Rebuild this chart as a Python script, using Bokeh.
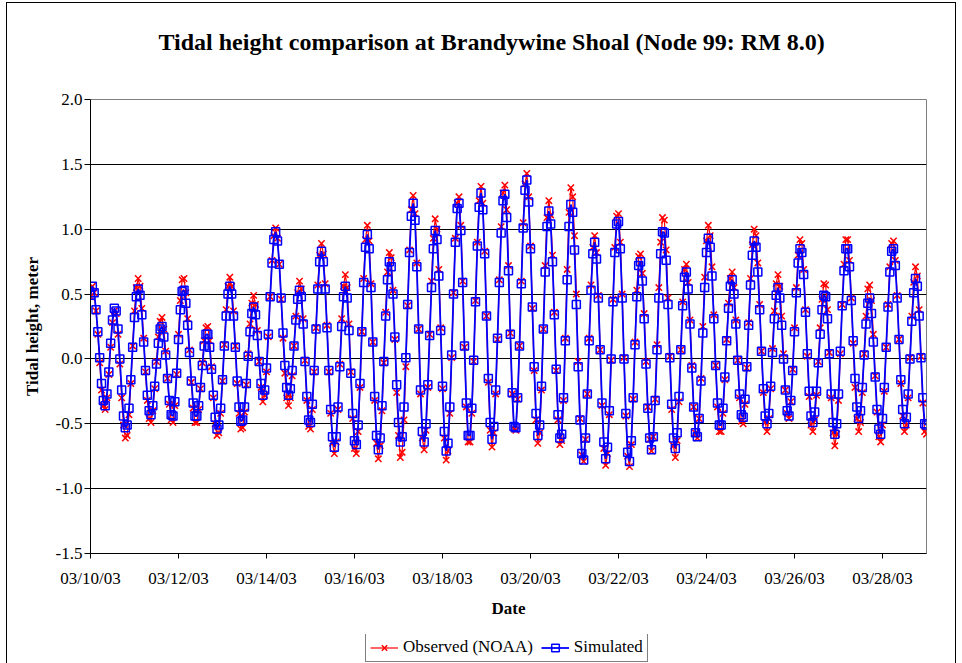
import pandas as pd
from bokeh.plotting import figure
from bokeh.layouts import column
from bokeh.models import (ColumnDataSource, Range1d, FixedTicker, NumeralTickFormatter,
                          DatetimeTickFormatter, Legend, LegendItem, Title)
from bokeh.embed import file_html
from bokeh.resources import INLINE

TITLE = "Tidal height comparison at Brandywine Shoal (Node 99: RM 8.0)"
X_LABEL = "Date"
Y_LABEL = "Tidal height, meter"
SERIES_NAMES = ["Observed (NOAA)", "Simulated"]
START = "2003-03-10 00:00"
END = "2003-03-29 00:00"
x_tick_labels = ["03/10/03", "03/12/03", "03/14/03", "03/16/03", "03/18/03",
                 "03/20/03", "03/22/03", "03/24/03", "03/26/03", "03/28/03"]
y_ticks = [-1.5, -1.0, -0.5, 0.0, 0.5, 1.0, 1.5, 2.0]

# hourly values (m), starting 03/10/03 00:00
observed = [
    0.48, 0.56, 0.51, 0.37, 0.19, -0.03, -0.24, -0.36, -0.39, -0.30, -0.12, 0.09,
    0.28, 0.37, 0.35, 0.19, -0.04, -0.30, -0.51, -0.61, -0.59, -0.43, -0.19, 0.10,
    0.37, 0.55, 0.62, 0.56, 0.39, 0.16, -0.10, -0.32, -0.46, -0.49, -0.40, -0.23,
    -0.02, 0.17, 0.29, 0.32, 0.23, 0.06, -0.15, -0.35, -0.47, -0.49, -0.36, -0.12,
    0.19, 0.45, 0.61, 0.62, 0.51, 0.31, 0.07, -0.18, -0.38, -0.49, -0.49, -0.39,
    -0.23, -0.03, 0.14, 0.24, 0.25, 0.14, -0.06, -0.30, -0.50, -0.59, -0.57, -0.42,
    -0.17, 0.11, 0.38, 0.56, 0.63, 0.56, 0.37, 0.10, -0.19, -0.42, -0.54, -0.53,
    -0.41, -0.20, 0.04, 0.27, 0.43, 0.49, 0.42, 0.22, -0.02, -0.22, -0.33, -0.28,
    -0.10, 0.17, 0.48, 0.76, 0.95, 1.01, 0.93, 0.73, 0.46, 0.16, -0.11, -0.30,
    -0.36, -0.30, -0.13, 0.10, 0.33, 0.51, 0.60, 0.54, 0.31, -0.01, -0.32, -0.52,
    -0.54, -0.39, -0.10, 0.24, 0.57, 0.80, 0.89, 0.81, 0.58, 0.26, -0.10, -0.42,
    -0.65, -0.73, -0.64, -0.39, -0.04, 0.31, 0.56, 0.65, 0.55, 0.27, -0.10, -0.46,
    -0.69, -0.73, -0.56, -0.22, 0.21, 0.62, 0.92, 1.03, 0.91, 0.58, 0.13, -0.32,
    -0.65, -0.77, -0.67, -0.40, -0.03, 0.36, 0.67, 0.82, 0.78, 0.53, 0.15, -0.26,
    -0.59, -0.76, -0.72, -0.47, -0.06, 0.41, 0.84, 1.15, 1.26, 1.12, 0.74, 0.23,
    -0.27, -0.61, -0.70, -0.55, -0.22, 0.19, 0.60, 0.93, 1.08, 1.00, 0.69, 0.24,
    -0.23, -0.61, -0.78, -0.71, -0.42, 0.01, 0.51, 0.93, 1.20, 1.25, 1.03, 0.60,
    0.09, -0.37, -0.64, -0.64, -0.42, -0.02, 0.45, 0.90, 1.22, 1.33, 1.20, 0.83,
    0.33, -0.18, -0.55, -0.68, -0.57, -0.27, 0.15, 0.61, 1.02, 1.28, 1.34, 1.15,
    0.72, 0.20, -0.27, -0.54, -0.55, -0.31, 0.10, 0.60, 1.05, 1.35, 1.43, 1.25,
    0.87, 0.39, -0.09, -0.47, -0.65, -0.57, -0.24, 0.23, 0.72, 1.09, 1.22, 1.11,
    0.80, 0.36, -0.09, -0.47, -0.66, -0.63, -0.32, 0.16, 0.69, 1.13, 1.32, 1.25,
    0.95, 0.50, -0.02, -0.46, -0.74, -0.79, -0.62, -0.27, 0.16, 0.57, 0.86, 0.95,
    0.82, 0.49, 0.07, -0.36, -0.69, -0.82, -0.73, -0.43, -0.01, 0.46, 0.86, 1.10,
    1.12, 0.90, 0.50, 0.01, -0.44, -0.75, -0.83, -0.66, -0.31, 0.13, 0.53, 0.79,
    0.81, 0.66, 0.35, -0.02, -0.37, -0.62, -0.71, -0.60, -0.31, 0.11, 0.55, 0.90,
    1.09, 1.07, 0.84, 0.47, 0.02, -0.39, -0.67, -0.76, -0.63, -0.33, 0.07, 0.44,
    0.69, 0.73, 0.59, 0.30, -0.05, -0.37, -0.57, -0.61, -0.46, -0.15, 0.25, 0.63,
    0.91, 1.03, 0.95, 0.71, 0.34, -0.05, -0.37, -0.56, -0.56, -0.42, -0.16, 0.15,
    0.43, 0.62, 0.67, 0.55, 0.30, -0.01, -0.30, -0.48, -0.50, -0.35, -0.07, 0.28,
    0.62, 0.88, 1.00, 0.95, 0.74, 0.42, 0.06, -0.26, -0.49, -0.56, -0.46, -0.23,
    0.08, 0.37, 0.58, 0.65, 0.56, 0.33, 0.04, -0.24, -0.42, -0.46, -0.33, -0.08,
    0.24, 0.55, 0.80, 0.92, 0.89, 0.69, 0.38, 0.02, -0.29, -0.51, -0.56, -0.47,
    -0.28, -0.02, 0.24, 0.46, 0.58, 0.57, 0.38, 0.05, -0.30, -0.57, -0.67, -0.58,
    -0.32, 0.04, 0.42, 0.73, 0.92, 0.92, 0.76, 0.47, 0.12, -0.22, -0.46, -0.56,
    -0.49, -0.26, 0.04, 0.33, 0.54, 0.57, 0.45, 0.19, -0.13, -0.41, -0.60, -0.64,
    -0.51, -0.25, 0.09, 0.42, 0.71, 0.89, 0.91, 0.76, 0.49, 0.15, -0.19, -0.44,
    -0.56, -0.51, -0.30, 0.01, 0.33, 0.59, 0.71, 0.64, 0.38, 0.02, -0.34, -0.56,
    -0.58,
]

simulated = [
    0.49, 0.56, 0.51, 0.38, 0.21, 0.01, -0.19, -0.32, -0.36, -0.27, -0.10, 0.12,
    0.30, 0.39, 0.37, 0.23, 0.00, -0.24, -0.44, -0.53, -0.51, -0.38, -0.16, 0.09,
    0.32, 0.48, 0.54, 0.49, 0.34, 0.13, -0.09, -0.28, -0.40, -0.43, -0.36, -0.21,
    -0.04, 0.12, 0.23, 0.25, 0.17, 0.03, -0.15, -0.32, -0.43, -0.44, -0.33, -0.11,
    0.15, 0.38, 0.52, 0.53, 0.43, 0.26, 0.05, -0.17, -0.34, -0.44, -0.44, -0.36,
    -0.22, -0.05, 0.10, 0.19, 0.19, 0.09, -0.08, -0.28, -0.45, -0.54, -0.51, -0.38,
    -0.16, 0.10, 0.33, 0.50, 0.56, 0.50, 0.33, 0.09, -0.17, -0.37, -0.48, -0.47,
    -0.37, -0.19, 0.02, 0.21, 0.35, 0.40, 0.34, 0.18, -0.02, -0.19, -0.28, -0.24,
    -0.07, 0.19, 0.48, 0.74, 0.92, 0.98, 0.91, 0.73, 0.47, 0.20, -0.05, -0.22,
    -0.28, -0.23, -0.09, 0.10, 0.30, 0.46, 0.53, 0.48, 0.27, -0.02, -0.29, -0.47,
    -0.49, -0.35, -0.09, 0.23, 0.54, 0.75, 0.83, 0.75, 0.54, 0.24, -0.09, -0.39,
    -0.60, -0.68, -0.60, -0.37, -0.06, 0.25, 0.48, 0.56, 0.47, 0.22, -0.11, -0.42,
    -0.63, -0.66, -0.51, -0.19, 0.21, 0.59, 0.86, 0.96, 0.85, 0.55, 0.13, -0.29,
    -0.59, -0.70, -0.61, -0.36, -0.02, 0.33, 0.61, 0.75, 0.71, 0.50, 0.17, -0.20,
    -0.49, -0.64, -0.60, -0.37, 0.01, 0.42, 0.82, 1.10, 1.20, 1.07, 0.71, 0.23,
    -0.24, -0.56, -0.64, -0.50, -0.20, 0.18, 0.55, 0.85, 0.99, 0.92, 0.64, 0.22,
    -0.21, -0.56, -0.71, -0.65, -0.37, 0.03, 0.50, 0.90, 1.16, 1.20, 0.99, 0.59,
    0.10, -0.34, -0.59, -0.59, -0.38, -0.01, 0.44, 0.87, 1.17, 1.28, 1.15, 0.81,
    0.33, -0.15, -0.49, -0.62, -0.52, -0.24, 0.16, 0.59, 0.97, 1.22, 1.27, 1.09,
    0.68, 0.19, -0.26, -0.52, -0.53, -0.30, 0.10, 0.58, 1.01, 1.30, 1.38, 1.21,
    0.85, 0.40, -0.06, -0.42, -0.59, -0.51, -0.21, 0.23, 0.67, 1.02, 1.14, 1.04,
    0.75, 0.34, -0.08, -0.43, -0.61, -0.58, -0.30, 0.14, 0.61, 1.02, 1.19, 1.13,
    0.84, 0.42, -0.06, -0.47, -0.73, -0.78, -0.61, -0.27, 0.14, 0.53, 0.81, 0.90,
    0.77, 0.47, 0.07, -0.34, -0.64, -0.77, -0.68, -0.40, 0.00, 0.44, 0.82, 1.04,
    1.06, 0.85, 0.47, 0.00, -0.42, -0.72, -0.79, -0.63, -0.30, 0.11, 0.48, 0.72,
    0.75, 0.60, 0.31, -0.04, -0.38, -0.61, -0.70, -0.60, -0.32, 0.07, 0.47, 0.81,
    0.98, 0.97, 0.76, 0.42, 0.01, -0.35, -0.61, -0.69, -0.57, -0.29, 0.07, 0.41,
    0.63, 0.67, 0.54, 0.27, -0.07, -0.37, -0.57, -0.60, -0.46, -0.17, 0.20, 0.55,
    0.82, 0.93, 0.86, 0.64, 0.31, -0.05, -0.34, -0.51, -0.51, -0.38, -0.14, 0.14,
    0.39, 0.56, 0.61, 0.50, 0.27, -0.01, -0.27, -0.43, -0.45, -0.31, -0.06, 0.26,
    0.57, 0.80, 0.91, 0.86, 0.67, 0.38, 0.06, -0.23, -0.44, -0.50, -0.42, -0.21,
    0.05, 0.31, 0.49, 0.55, 0.47, 0.26, 0.00, -0.24, -0.40, -0.44, -0.32, -0.09,
    0.21, 0.51, 0.74, 0.85, 0.82, 0.65, 0.36, 0.04, -0.25, -0.44, -0.49, -0.41,
    -0.25, -0.03, 0.19, 0.38, 0.49, 0.48, 0.31, 0.04, -0.27, -0.49, -0.58, -0.50,
    -0.27, 0.06, 0.41, 0.68, 0.85, 0.85, 0.71, 0.45, 0.14, -0.15, -0.37, -0.46,
    -0.40, -0.22, 0.03, 0.27, 0.43, 0.47, 0.35, 0.13, -0.14, -0.39, -0.54, -0.58,
    -0.46, -0.22, 0.09, 0.40, 0.67, 0.83, 0.85, 0.72, 0.47, 0.15, -0.16, -0.39,
    -0.50, -0.45, -0.27, 0.00, 0.29, 0.51, 0.62, 0.56, 0.33, 0.01, -0.30, -0.50,
    -0.51,
]

n = min(len(observed), len(simulated))
times = pd.date_range(START, periods=n, freq="h")
src = ColumnDataSource(dict(t=times, obs=observed[:n], sim=simulated[:n]))

FONT = "Liberation Serif"
OBS_STYLE = dict(color="red", line_w=1.2, marker="x", size=9, mlw=1.5)
SIM_STYLE = dict(color="blue", line_w=1.8, marker="square", size=8, mlw=1.5)

p = figure(width=948, height=631, x_axis_type="datetime", title=None,
           output_backend="svg", toolbar_location=None,
           x_range=Range1d(pd.Timestamp(START), pd.Timestamp(END)),
           y_range=Range1d(y_ticks[0], y_ticks[-1]),
           min_border_left=83, min_border_right=29,
           min_border_top=96, min_border_bottom=81)
p.background_fill_color = "white"
p.border_fill_color = "white"
p.outline_line_color = "#808080"
p.outline_line_width = 1

# title (a blank spacer title sits between the real title and the frame)
p.add_layout(Title(text=" ", text_font_size="10px", standoff=20), "above")
p.add_layout(Title(text=TITLE, align="left", offset=68, standoff=24,
                   text_font=FONT, text_font_size="24px", text_font_style="bold",
                   text_color="black"), "above")

# axes
tick_ms = [pd.to_datetime(s, format="%m/%d/%y").value // 10**6 for s in x_tick_labels]
p.xaxis.ticker = FixedTicker(ticks=tick_ms)
p.xaxis.formatter = DatetimeTickFormatter(
    days="%m/%d/%y", months="%m/%d/%y", hours="%m/%d/%y", years="%m/%d/%y")
p.yaxis.ticker = FixedTicker(ticks=y_ticks)
p.yaxis.formatter = NumeralTickFormatter(format="0.0")
for ax in (p.xaxis, p.yaxis):
    ax.axis_line_color = "black"
    ax.axis_line_width = 1
    ax.major_tick_line_color = "black"
    ax.major_tick_in = 0
    ax.minor_tick_line_color = None
    ax.major_label_text_font = FONT
    ax.major_label_text_font_size = "17px"
    ax.major_label_text_color = "black"
    ax.axis_label_text_font = FONT
    ax.axis_label_text_font_size = "17px"
    ax.axis_label_text_font_style = "bold"
    ax.axis_label_text_color = "black"
p.xaxis.major_tick_out = 5
p.yaxis.major_tick_out = 6
p.xaxis.major_label_standoff = 10
p.yaxis.major_label_standoff = 2
p.xaxis.axis_label = X_LABEL
p.yaxis.axis_label = Y_LABEL
p.xaxis.axis_label_standoff = 8
p.yaxis.axis_label_standoff = 11

p.xgrid.visible = False
p.ygrid.ticker = FixedTicker(ticks=y_ticks[1:-1])
p.ygrid.grid_line_color = "black"
p.ygrid.grid_line_width = 1


def add_series(fig, x, y, st, source):
    rl = fig.line(x, y, source=source, line_color=st["color"], line_width=st["line_w"])
    rm = fig.scatter(x, y, source=source, marker=st["marker"], size=st["size"],
                     line_color=st["color"], fill_color=None, line_width=st["mlw"])
    return rl, rm


add_series(p, "t", "obs", OBS_STYLE, src)
add_series(p, "t", "sim", SIM_STYLE, src)

# legend strip below the chart (its glyph renderers hold one point kept off-range)
lf = figure(width=948, height=29, output_backend="svg", toolbar_location=None,
            x_axis_location=None, y_axis_location=None,
            x_range=Range1d(0, 1), y_range=Range1d(0, 1),
            min_border_left=0, min_border_right=0, min_border_top=0, min_border_bottom=0)
lf.grid.visible = False
lf.outline_line_color = None
lf.background_fill_color = "white"
lf.border_fill_color = "white"
off_range = ColumnDataSource(dict(a=[5.0], b=[5.0]))
lo = add_series(lf, "a", "b", OBS_STYLE, off_range)
ls = add_series(lf, "a", "b", SIM_STYLE, off_range)
legend = Legend(items=[LegendItem(label=SERIES_NAMES[0], renderers=list(lo)),
                       LegendItem(label=SERIES_NAMES[1], renderers=list(ls))],
                orientation="horizontal", location=(275, 1))
legend.label_text_font = FONT
legend.label_text_font_size = "17px"
legend.label_text_color = "black"
legend.glyph_width = 28
legend.glyph_height = 19
legend.label_standoff = 5
legend.spacing = 8
legend.padding = 4
legend.margin = 0
legend.border_line_color = "black"
legend.border_line_width = 1
legend.background_fill_alpha = 1
lf.add_layout(legend, "center")

layout = column(p, lf, spacing=0, margin=(2, 0, 0, 6),
                styles={"border": "1px solid black"})
open("out.html", "w").write(file_html(layout, INLINE))
